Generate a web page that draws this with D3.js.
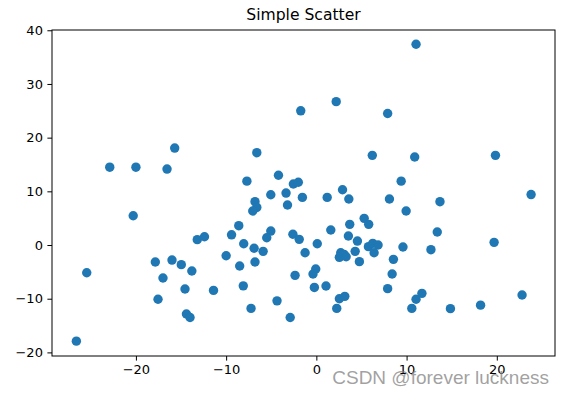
<!DOCTYPE html>
<html>
<head>
<meta charset="utf-8">
<script src="https://cdn.jsdelivr.net/npm/d3@7"></script>
<style>
  html, body { margin: 0; padding: 0; background: #fff; }
  svg { display: block; }
  text { font-family: "DejaVu Sans", sans-serif; }
</style>
</head>
<body>
<div id="chart"></div>
<script>
const title = 'Simple Scatter'
const xTicks = [-20, -10, 0, 10, 20]
const yTicks = [-20, -10, 0, 10, 20, 30, 40]

// x, y
const xs = [
  -22.9, -20.0, -16.55, -15.7, -20.3, -25.45, -26.6, -17.85, -16.0, -14.97,
  -13.8, -17.0, -14.56, -17.55, -14.4, -14.0, -11.4, -13.2, -12.4, -10.0,
  -9.4, -8.6, -8.5, -8.1, -6.6, -7.7, -6.8, -6.6, -7.05, -1.73,
  2.2, 7.9, 6.2, 10.9, -4.2, -2.55, -2.0, 9.4, 2.9, -5.05,
  -3.36, -1.55, 1.2, 3.6, 8.1, 9.95, -3.2, -5.05, -5.5, 5.3,
  5.8, 3.7, 1.6, -8.05, -6.9, -5.9, -6.8, -7.24, -4.36, -2.9,
  -2.6, -1.9, -1.25, 0.1, -2.36, -0.07, -0.37, -0.22, 1.07, 3.55,
  4.55, 4.3, 2.7, 3.07, 2.55, 3.3, 4.77, 5.77, 6.25, 6.84,
  6.4, 9.6, 8.54, 8.4, 7.9, 2.55, 3.15, 2.26, 11.05, 10.58,
  11.05, 19.85, 23.8, 13.7, 13.4, 12.7, 19.7, 11.7, 14.86, 18.2,
  22.8
]
const ys = [
  14.5, 14.5, 14.15, 18.06, 5.46, -5.16, -17.9, -3.17, -2.8, -3.66,
  -4.84, -6.15, -8.2, -10.1, -12.85, -13.5, -8.45, 1.0, 1.55, -2.0,
  1.9, 3.6, -3.9, -7.6, 17.2, 11.9, 8.07, 7.0, 6.33, 25.0,
  26.7, 24.5, 16.7, 16.4, 13.0, 11.36, 11.7, 11.9, 10.3, 9.37,
  9.68, 8.87, 8.87, 8.57, 8.57, 6.33, 7.45, 2.6, 1.36, 4.97,
  3.85, 3.85, 2.8, 0.24, -0.6, -1.18, -3.17, -11.8, -10.4, -13.5,
  2.0, 1.06, -1.43, 0.24, -5.65, -4.47, -5.4, -7.9, -7.63, 1.68,
  0.74, -1.18, -1.43, -1.74, -2.3, -2.18, -3.1, -0.3, 0.3, 0.0,
  -1.43, -0.37, -2.67, -5.4, -8.13, -10.0, -9.56, -11.8, -10.1, -11.8,
  37.4, 16.7, 9.4, 8.07, 2.42, -0.87, 0.5, -9.0, -11.85, -11.2,
  -9.3
]

const W = 564, H = 394
const margin = { left: 52, right: 9, top: 30, bottom: 38 }
const innerW = W - margin.left - margin.right
const innerH = H - margin.top - margin.bottom

const svg = d3.select('#chart').append('svg')
  .attr('width', W)
  .attr('height', H)

const x = d3.scaleLinear().domain([-29.3, 26.45]).range([0, innerW])
const y = d3.scaleLinear().domain([-20.67, 40.05]).range([innerH, 0])

const g = svg.append('g').attr('transform', `translate(${margin.left},${margin.top})`)

const fmt = d => String(d).replace('-', '\u2212')

const xAxis = g.append('g')
  .attr('transform', `translate(0,${innerH})`)
  .call(d3.axisBottom(x).tickValues(xTicks).tickFormat(fmt).tickSize(4.6).tickPadding(4.5))
const yAxis = g.append('g')
  .call(d3.axisLeft(y).tickValues(yTicks).tickFormat(fmt).tickSize(4.6).tickPadding(4.5))

for (const ax of [xAxis, yAxis]) {
  ax.select('.domain').remove()
  ax.selectAll('line').attr('stroke', '#000').attr('stroke-width', 1)
  ax.selectAll('text')
    .attr('fill', '#000')
    .style('font-family', '"DejaVu Sans", sans-serif')
    .style('font-size', '13px')
}

g.selectAll('circle.pt')
  .data(xs.map((v, i) => [v, ys[i]]))
  .enter()
  .append('circle')
  .attr('class', 'pt')
  .attr('cx', d => x(d[0]))
  .attr('cy', d => y(d[1]))
  .attr('r', 4.7)
  .attr('fill', '#1f77b4')

g.append('rect')
  .attr('x', 0)
  .attr('y', 0)
  .attr('width', innerW)
  .attr('height', innerH)
  .attr('fill', 'none')
  .attr('stroke', '#000')
  .attr('stroke-width', 1)

svg.append('text')
  .attr('x', margin.left + innerW / 2)
  .attr('y', margin.top - 10)
  .attr('text-anchor', 'middle')
  .style('font-size', '15.6px')
  .attr('fill', '#000')
  .text(title)

// watermark
svg.append('text')
  .attr('x', 549)
  .attr('y', 384)
  .attr('text-anchor', 'end')
  .style('font-family', '"Liberation Sans", Arial, sans-serif')
  .style('font-size', '19px')
  .attr('fill', 'rgba(130,130,130,0.75)')
  .text('CSDN @forever luckness')
</script>
</body>
</html>
